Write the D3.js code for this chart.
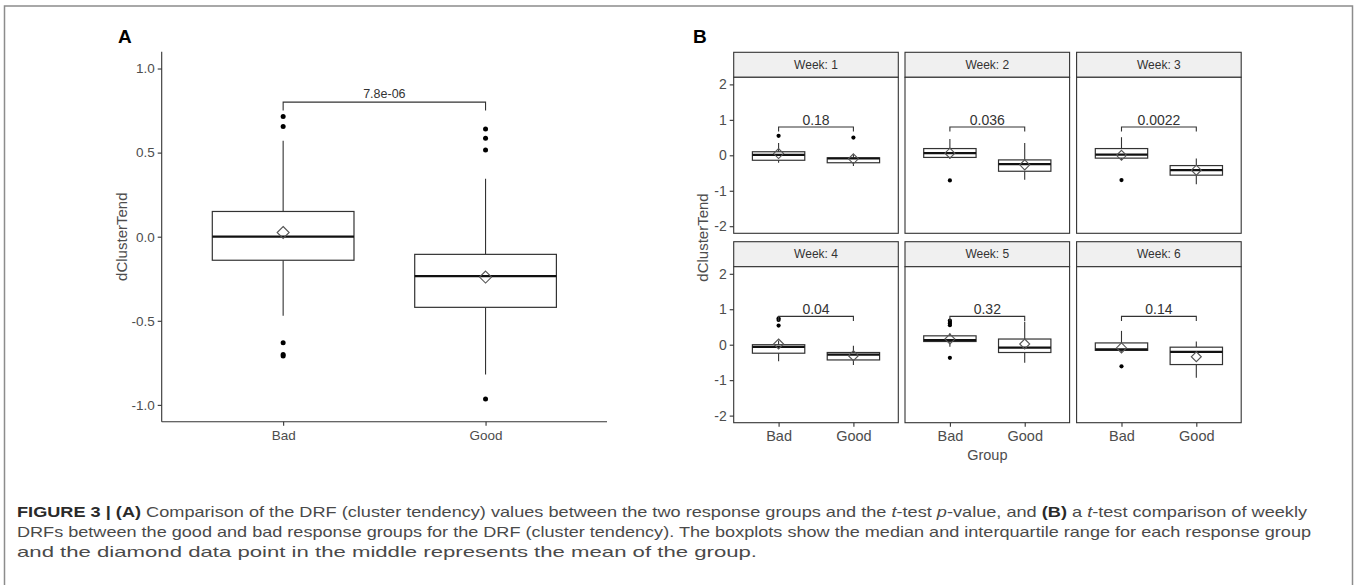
<!DOCTYPE html>
<html>
<head>
<meta charset="utf-8">
<script src="https://cdn.jsdelivr.net/npm/d3@7"></script>
<style>
  body { margin: 0; background: #fff; }
  svg { display: block; font-family: "Liberation Sans", Arial, sans-serif; }
</style>
</head>
<body>
<svg id="fig" width="1359" height="585"></svg>
<script>
// ---- data ----
const groups = ['Bad', 'Good'];

// panel A (all weeks pooled)
const aQ1 = [-0.14, -0.42];
const aMed = [0.0, -0.235];
const aQ3 = [0.15, -0.105];
const aLo = [-0.47, -0.82];
const aHi = [0.57, 0.345];
const aMean = [0.025, -0.24];
const aOut = [[0.715, 0.655, -0.63, -0.70, -0.71], [0.64, 0.585, 0.515, -0.965]];
const aPval = '7.8e-06';
const aTicks = [-1.0, -0.5, 0.0, 0.5, 1.0];

// panel B (one entry per week, each [Bad, Good])
const weeks = [1, 2, 3, 4, 5, 6];
const bQ1 = [[-0.14, -0.21], [-0.06, -0.45], [-0.08, -0.56], [-0.24, -0.43], [0.09, -0.22], [-0.16, -0.56]];
const bMed = [[0.01, -0.09], [0.06, -0.25], [0.02, -0.42], [-0.06, -0.28], [0.13, -0.08], [-0.13, -0.20]];
const bQ3 = [[0.10, -0.07], [0.19, -0.13], [0.19, -0.29], [0.0, -0.22], [0.25, 0.16], [0.05, -0.07]];
const bLo = [[-0.21, -0.30], [-0.10, -0.69], [-0.13, -0.82], [-0.47, -0.57], [-0.06, -0.51], [-0.20, -0.93]];
const bHi = [[0.35, 0.02], [0.46, 0.35], [0.51, -0.09], [0.12, -0.03], [0.32, 0.65], [0.39, 0.09]];
const bMean = [[0.05, -0.10], [0.06, -0.27], [0.0, -0.42], [0.02, -0.31], [0.16, 0.02], [-0.09, -0.34]];
const bOut = [
  [[0.55], [0.50]],
  [[-0.71], []],
  [[-0.70], []],
  [[0.74, 0.70, 0.54], []],
  [[0.68, 0.64, 0.60, 0.55, -0.37], []],
  [[-0.61], []]
];
const bPvals = ['0.18', '0.036', '0.0022', '0.04', '0.32', '0.14'];
const bTicks = [-2, -1, 0, 1, 2];

const svg = d3.select('#fig');
const dark = '#333';
const font = '"Liberation Sans", Arial, sans-serif';

// outer frame of the figure (open at the bottom)
svg.append('path')
  .attr('d', 'M4.5,585 V6 H1352.5 V585')
  .attr('fill', 'none').attr('stroke', '#8c8c8c').attr('stroke-width', 1.5);

// style tick labels of an axis
function styleAxis(ax, size) {
  ax.selectAll('.domain, .tick line').attr('stroke', dark).attr('stroke-width', 1.1);
  ax.selectAll('.tick text')
    .style('font-size', size + 'px').style('font-family', font).style('fill', '#4d4d4d');
}

// draw the box plots of one panel
function drawBoxes(g, x, y, stats, opt) {
  const bw = opt.step * 0.7; // box width in px
  groups.forEach((grp, i) => {
    const cx = x(grp);
    const box = g.append('g');
    box.append('line').attr('x1', cx).attr('x2', cx)
      .attr('y1', y(stats.hi[i])).attr('y2', y(stats.q3[i]))
      .attr('stroke', dark).attr('stroke-width', 1.1);
    box.append('line').attr('x1', cx).attr('x2', cx)
      .attr('y1', y(stats.q1[i])).attr('y2', y(stats.lo[i]))
      .attr('stroke', dark).attr('stroke-width', 1.1);
    box.append('rect')
      .attr('x', cx - bw / 2).attr('width', bw)
      .attr('y', y(stats.q3[i])).attr('height', y(stats.q1[i]) - y(stats.q3[i]))
      .attr('fill', '#fff').attr('stroke', dark).attr('stroke-width', 1.2);
    box.append('line')
      .attr('x1', cx - bw / 2).attr('x2', cx + bw / 2)
      .attr('y1', y(stats.med[i])).attr('y2', y(stats.med[i]))
      .attr('stroke', '#111').attr('stroke-width', 2.2);
    box.selectAll('circle.out').data(stats.out[i]).enter().append('circle')
      .attr('cx', cx).attr('cy', d => y(d)).attr('r', opt.r).attr('fill', '#000');
    const s = opt.dia;
    const my = y(stats.mean[i]);
    box.append('path')
      .attr('d', `M${cx},${my - s} L${cx + s},${my} L${cx},${my + s} L${cx - s},${my} Z`)
      .attr('fill', 'none').attr('stroke', '#555').attr('stroke-width', 1.1);
  });
  // significance bracket
  const x1 = x(groups[0]), x2 = x(groups[1]);
  const by = y(opt.bracket), ty = y(opt.bracket - opt.tip);
  g.append('path')
    .attr('d', `M${x1},${ty} V${by} H${x2} V${ty}`)
    .attr('fill', 'none').attr('stroke', dark).attr('stroke-width', 1.1);
  g.append('text')
    .attr('x', (x1 + x2) / 2).attr('y', by - opt.lift)
    .attr('text-anchor', 'middle').attr('font-size', opt.pSize).attr('fill', dark)
    .text(opt.p);
}

// ---------------- panel A ----------------
const axA = { left: 161.7, right: 607, top: 51.7, bottom: 421.7 };
// ggplot discrete expansion: 0.6 units on each side
const xA = d3.scalePoint().domain(groups).range([axA.left, axA.right]).padding(0.6);
const yA = d3.scaleLinear().domain([-1.1, 1.1]).range([axA.bottom, axA.top]);

const gA = svg.append('g');
const yAxA = gA.append('g')
  .attr('transform', `translate(${axA.left},0)`)
  .call(d3.axisLeft(yA).tickValues(aTicks).tickFormat(d => d.toFixed(1)).tickSize(4).tickPadding(3))
  .call(a => a.select('.domain').attr('d', `M0,${axA.top}V${axA.bottom}`));
styleAxis(yAxA, 13.5);
const xAxA = gA.append('g')
  .attr('transform', `translate(0,${axA.bottom})`)
  .call(d3.axisBottom(xA).tickSize(4).tickPadding(5))
  .call(a => a.select('.domain').attr('d', `M${axA.left},0H${axA.right}`));
styleAxis(xAxA, 13.5);

drawBoxes(gA, xA, yA,
  { q1: aQ1, med: aMed, q3: aQ3, lo: aLo, hi: aHi, mean: aMean, out: aOut },
  { step: xA.step(), r: 2.5, dia: 6, bracket: 0.80, tip: 0.05, lift: 4, p: aPval, pSize: 12.5 });

gA.append('text')
  .attr('transform', `translate(127,${(axA.top + axA.bottom) / 2}) rotate(-90)`)
  .attr('text-anchor', 'middle').attr('font-size', 15).attr('fill', '#4d4d4d')
  .text('dClusterTend');
svg.append('text').attr('x', 118).attr('y', 42.5)
  .attr('font-size', 19).attr('font-weight', 'bold').attr('fill', '#000').text('A');

// ---------------- panel B ----------------
const colX = [733.7, 905, 1076.6];
const rowY = [52.3, 241.7];
const pw = 164.6, stripH = 25, ph = 156;

const gB = svg.append('g');
weeks.forEach((wk, k) => {
  const col = k % 3, row = Math.floor(k / 3);
  const x0 = colX[col], s0 = rowY[row], p0 = s0 + stripH;
  const x = d3.scalePoint().domain(groups).range([x0, x0 + pw]).padding(0.6);
  const y = d3.scaleLinear().domain([-2.2, 2.2]).range([p0 + ph, p0]);
  const g = gB.append('g');

  // strip
  g.append('rect').attr('x', x0).attr('y', s0).attr('width', pw).attr('height', stripH)
    .attr('fill', '#f0f0f0').attr('stroke', dark).attr('stroke-width', 1.1);
  g.append('text').attr('x', x0 + pw / 2).attr('y', s0 + stripH / 2 + 4)
    .attr('text-anchor', 'middle').attr('font-size', 12).attr('fill', '#333')
    .text('Week: ' + wk);

  // panel border
  g.append('rect').attr('x', x0).attr('y', p0).attr('width', pw).attr('height', ph)
    .attr('fill', '#fff').attr('stroke', dark).attr('stroke-width', 1.1);

  if (col === 0) {
    const ax = g.append('g').attr('transform', `translate(${x0},0)`)
      .call(d3.axisLeft(y).tickValues(bTicks).tickFormat(d => String(d)).tickSize(4).tickPadding(3));
    ax.select('.domain').remove();
    styleAxis(ax, 14);
  }
  if (row === 1) {
    const ax = g.append('g').attr('transform', `translate(0,${p0 + ph})`)
      .call(d3.axisBottom(x).tickSize(4).tickPadding(4));
    ax.select('.domain').remove();
    styleAxis(ax, 14.5);
  }

  drawBoxes(g, x, y,
    { q1: bQ1[k], med: bMed[k], q3: bQ3[k], lo: bLo[k], hi: bHi[k], mean: bMean[k], out: bOut[k] },
    { step: x.step(), r: 2.1, dia: 5, bracket: 0.80, tip: 0.13, lift: 2, p: bPvals[k], pSize: 14 });
});

gB.append('text')
  .attr('transform', `translate(708,${(rowY[0] + rowY[1] + stripH + ph) / 2}) rotate(-90)`)
  .attr('text-anchor', 'middle').attr('font-size', 15).attr('fill', '#4d4d4d')
  .text('dClusterTend');
gB.append('text').attr('x', colX[1] + pw / 2).attr('y', 459.5)
  .attr('text-anchor', 'middle').attr('font-size', 14.5).attr('fill', '#4d4d4d').text('Group');
svg.append('text').attr('x', 693).attr('y', 42.5)
  .attr('font-size', 19).attr('font-weight', 'bold').attr('fill', '#000').text('B');

// ---------------- caption ----------------
const capLines = [
  [['FIGURE 3 | (A)', 'b'], [' Comparison of the DRF (cluster tendency) values between the two response groups and the ', ''], ['t', 'i'], ['-test ', ''], ['p', 'i'], ['-value, and ', ''], ['(B)', 'b'], [' a ', ''], ['t', 'i'], ['-test comparison of weekly', '']],
  [['DRFs between the good and bad response groups for the DRF (cluster tendency). The boxplots show the median and interquartile range for each response group', '']],
  [['and the diamond data point in the middle represents the mean of the group.', '']]
];
const capWidth = [1290, 1294, 740];
const capBase = [516.5, 536.5, 556.5];
capLines.forEach((parts, i) => {
  const t = svg.append('text').attr('x', 17).attr('y', capBase[i])
    .attr('font-size', 14.5).attr('fill', '#4a4a4a');
  parts.forEach(([txt, st]) => {
    const sp = t.append('tspan').text(txt);
    if (st === 'b') sp.attr('font-weight', 'bold').attr('fill', '#2a2a2a');
    if (st === 'i') sp.attr('font-style', 'italic');
  });
  t.attr('textLength', capWidth[i]).attr('lengthAdjust', 'spacingAndGlyphs');
});
</script>
</body>
</html>
